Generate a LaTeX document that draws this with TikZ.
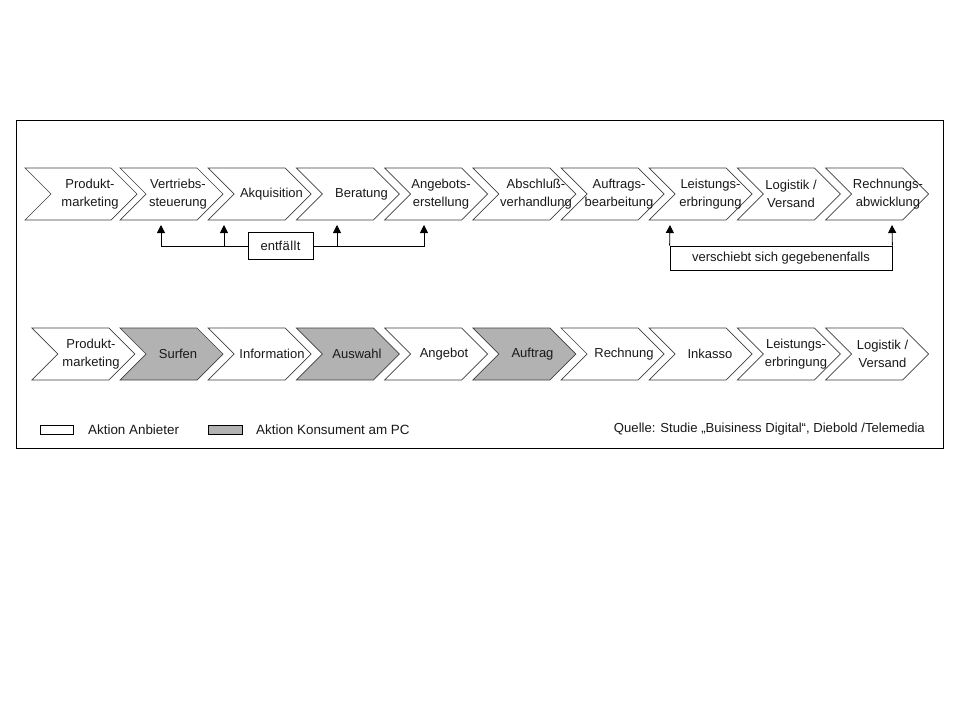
\documentclass[tikz,border=0pt]{standalone}
\usepackage{fontspec}
\setmainfont{Liberation Sans}
\usetikzlibrary{arrows.meta}
\definecolor{consgray}{HTML}{B2B2B2}
\tikzset{
  chev/.style={draw=black!75, line width=0.7pt, line join=miter},
  lbl/.style={align=center, inner sep=1pt, font=\fontsize{13}{17.5}\selectfont, text=black!90},
  lgtxt/.style={inner sep=0pt, font=\fontsize{13.4}{15}\selectfont, text=black!90},
  boxnode/.style={draw=black, line width=0.8pt, inner sep=0pt, font=\fontsize{13}{15}\selectfont, text=black!90},
  conn/.style={draw=black, line width=0.8pt, -{Triangle[length=8pt,width=8pt]}},
  frame/.style={draw=black, line width=0.9pt},
}
% name, start x, width, top y, fill
\newcommand{\mychev}[5]{%
  \path[chev, fill=#5] (#2,#4) -- ({#2+#3-26},#4) -- ({#2+#3},{#4+26}) -- ({#2+#3-26},{#4+52}) -- (#2,{#4+52}) -- ({#2+26},{#4+26}) -- cycle;
  \coordinate (#1) at ({#2+#3/2+13},{#4+26});
}
\begin{document}
\begin{tikzpicture}[x=1pt,y=-1pt]
\useasboundingbox (0,0) rectangle (960,720);
\fill[white] (0,0) rectangle (960,720);
% outer frame
\draw[frame] (16,120) rectangle (943,448);

% ---------- top row ----------
\mychev{c1}{25}{112}{168}{white}
\mychev{c2}{120}{103}{168}{white}
\mychev{c3}{208.2}{103}{168}{white}
\mychev{c4}{296.4}{103}{168}{white}
\mychev{c5}{384.6}{103}{168}{white}
\mychev{c6}{472.8}{103}{168}{white}
\mychev{c7}{561}{103}{168}{white}
\mychev{c8}{649.2}{103}{168}{white}
\mychev{c9}{737.4}{103}{168}{white}
\mychev{c10}{825.6}{103}{168}{white}

\node[lbl] (t1) at (90,194) {Produkt-\\marketing};
\node[lbl] (t2) at (178,194) {Vertriebs-\\steuerung};
\node[lbl] (t3) at (271.5,194) {Akquisition};
\node[lbl] (t4) at (361.5,194) {Beratung};
\node[lbl] (t5) at (441,194) {Angebots-\\erstellung};
\node[lbl] (t6) at (536,194) {Abschluß-\\verhandlung};
\node[lbl] (t7) at (619,194) {Auftrags-\\bearbeitung};
\node[lbl] (t8) at (710.5,194) {Leistungs-\\erbringung};
\node[lbl] (t9) at (791,194) {Logistik /\\Versand};
\node[lbl] (t10) at (888,194) {Rechnungs-\\abwicklung};

% entfällt connectors
\coordinate (e1) at (161,225);
\coordinate (e2) at (224,225);
\coordinate (e3) at (337,225);
\coordinate (e4) at (424,225);
\node[boxnode, minimum width=65pt, minimum height=27pt] (ent) at (280.5,246) {entf\kern0.4pt ä\kern0.4pt l\kern0.4pt l\kern0.4pt t};
\draw[conn] (ent.west) -| (e1);
\draw[conn] (e2 |- ent.west) -- (e2);
\draw[conn] (ent.east) -| (e4);
\draw[conn] (e3 |- ent.east) -- (e3);

% verschiebt connectors
\coordinate (v1) at (670,225);
\coordinate (v2) at (892,225);
\node[boxnode, minimum width=222pt, minimum height=24pt] (vs) at (781,258) {verschiebt sich gegebenenfalls};
\draw[conn] (vs.north west) -- (v1);
\draw[conn] (vs.north east) -- (v2);

% ---------- bottom row ----------
\mychev{d1}{31.8}{103}{328}{white}
\mychev{d2}{120}{103}{328}{consgray}
\mychev{d3}{208.2}{103}{328}{white}
\mychev{d4}{296.4}{103}{328}{consgray}
\mychev{d5}{384.6}{103}{328}{white}
\mychev{d6}{472.8}{103}{328}{consgray}
\mychev{d7}{561}{103}{328}{white}
\mychev{d8}{649.2}{103}{328}{white}
\mychev{d9}{737.4}{103}{328}{white}
\mychev{d10}{825.6}{103}{328}{white}

\node[lbl] (b1) at (91,354) {Produkt-\\marketing};
\node[lbl] (b2) at (178,354) {Surfen};
\node[lbl] (b3) at (272,354) {Information};
\node[lbl] (b4) at (357,354) {Auswahl};
\node[lbl] (b5) at (444,354) {Angebot};
\node[lbl] (b6) at (532.5,354) {Auftrag};
\node[lbl] (b7) at (624,354) {Rechnung};
\node[lbl] (b8) at (710,354) {Inkasso};
\node[lbl] (b9) at (796,354) {Leistungs-\\erbringung};
\node[lbl] (b10) at (882.5,354) {Logistik /\\Versand};

% ---------- legend ----------
\node[draw=black, line width=0.8pt, fill=white, minimum width=33pt, minimum height=9pt, inner sep=0pt] (lg1) at (56.5,429.5) {};
\node[lgtxt, anchor=west] (lt1) at (88,429.5) {Aktion Anbieter};
\node[draw=black, line width=0.8pt, fill=consgray, minimum width=34pt, minimum height=9pt, inner sep=0pt] (lg2) at (225,429.5) {};
\node[lgtxt, anchor=west] (lt2) at (256,429.5) {Aktion Konsument am PC};
\node[lgtxt, anchor=east, font=\fontsize{13.1}{15}\selectfont] (src) at (925,429.5) {Quelle:\hspace{5pt}Studie „Buisiness Digital“, Diebold /Telemedia};
\end{tikzpicture}
\end{document}
